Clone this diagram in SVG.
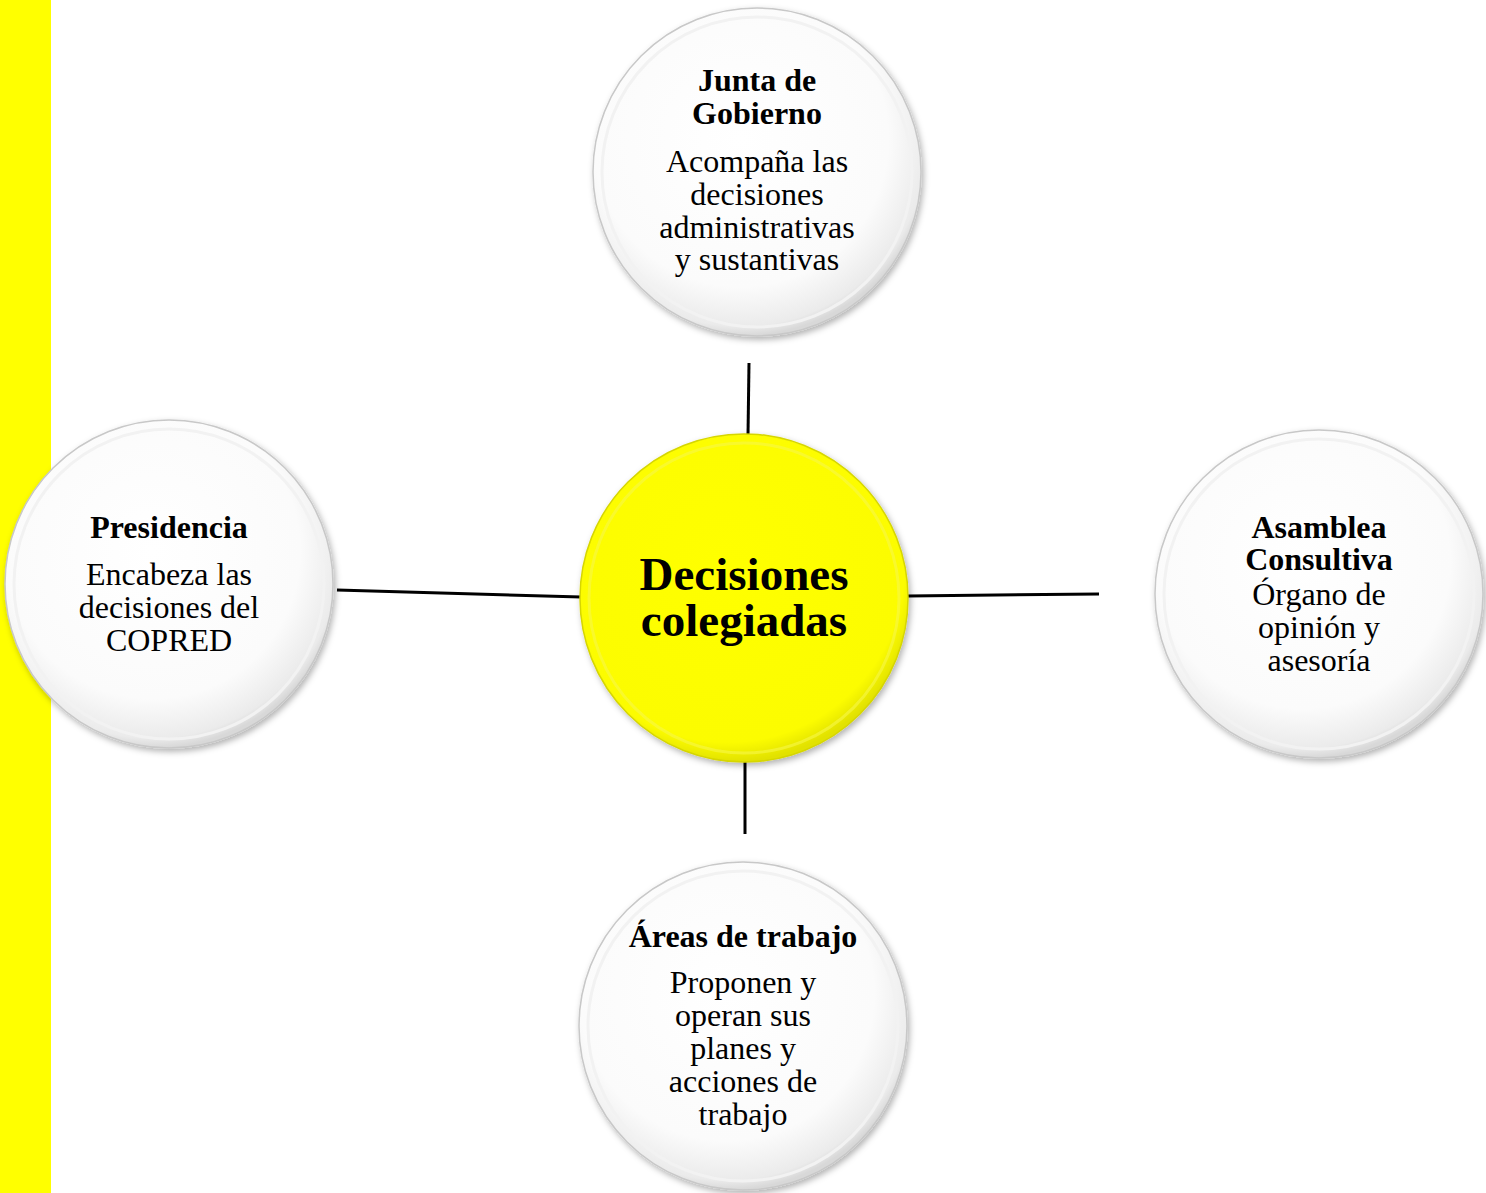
<svg xmlns="http://www.w3.org/2000/svg" width="1486" height="1193" viewBox="0 0 1486 1193">
<defs>
<radialGradient id="gw" cx="0.45" cy="0.4" r="0.6">
<stop offset="0" stop-color="#ffffff"/>
<stop offset="0.75" stop-color="#fbfbfb"/>
<stop offset="0.95" stop-color="#ebebeb"/>
<stop offset="1" stop-color="#d8d8d8"/>
</radialGradient>
<radialGradient id="gy" cx="0.45" cy="0.4" r="0.6">
<stop offset="0" stop-color="#ffff00"/>
<stop offset="0.9" stop-color="#fcfc00"/>
<stop offset="1" stop-color="#e2e200"/>
</radialGradient>
<filter id="sh" x="-20%" y="-20%" width="140%" height="140%">
<feDropShadow dx="2" dy="3" stdDeviation="3" flood-color="#000" flood-opacity="0.3"/>
</filter>
</defs>
<style>
.cw{fill:url(#gw);stroke:#c8c8c8;stroke-width:1.5;filter:url(#sh)}
.cy{fill:url(#gy);stroke:#d6d600;stroke-width:1.5;filter:url(#sh)}
.rw{fill:none;stroke:#f2f2f2;stroke-width:3}
.ry{fill:none;stroke:#f6f64a;stroke-width:3;opacity:0.6}
.t{font-family:"Liberation Serif","Times New Roman",serif;font-size:32px;font-weight:bold;fill:#000;text-anchor:middle}
.b{font-family:"Liberation Serif","Times New Roman",serif;font-size:32px;fill:#000;text-anchor:middle}
.c{font-family:"Liberation Serif","Times New Roman",serif;font-size:47px;font-weight:bold;fill:#000;text-anchor:middle}
.ln{stroke:#000;stroke-width:3;fill:none}
</style>
<rect x="0" y="0" width="51" height="1193" fill="#ffff00"/>
<g id="connectors">
<line class="ln" x1="749" y1="363" x2="748" y2="435"/>
<line class="ln" x1="337" y1="590" x2="581" y2="597"/>
<line class="ln" x1="908" y1="596" x2="1099" y2="594"/>
<line class="ln" x1="745" y1="762" x2="745" y2="834"/>
</g>
<g id="junta">
<circle class="cw" cx="757" cy="172" r="164"/>
<circle class="rw" cx="757" cy="172" r="155"/>
<text class="t" x="757" y="91">Junta de</text>
<text class="t" x="757" y="124">Gobierno</text>
<text class="b" x="757" y="172">Acompaña las</text>
<text class="b" x="757" y="205">decisiones</text>
<text class="b" x="757" y="238">administrativas</text>
<text class="b" x="757" y="270">y sustantivas</text>
</g>
<g id="presidencia">
<circle class="cw" cx="169" cy="584" r="164"/>
<circle class="rw" cx="169" cy="584" r="155"/>
<text class="t" x="169" y="538">Presidencia</text>
<text class="b" x="169" y="585">Encabeza las</text>
<text class="b" x="169" y="618">decisiones del</text>
<text class="b" x="169" y="651">COPRED</text>
</g>
<g id="asamblea">
<circle class="cw" cx="1319" cy="594" r="164"/>
<circle class="rw" cx="1319" cy="594" r="155"/>
<text class="t" x="1319" y="538">Asamblea</text>
<text class="t" x="1319" y="570">Consultiva</text>
<text class="b" x="1319" y="605">Órgano de</text>
<text class="b" x="1319" y="638">opinión y</text>
<text class="b" x="1319" y="671">asesoría</text>
</g>
<g id="areas">
<circle class="cw" cx="743" cy="1026" r="164"/>
<circle class="rw" cx="743" cy="1026" r="155"/>
<text class="t" x="743" y="947">Áreas de trabajo</text>
<text class="b" x="743" y="993">Proponen y</text>
<text class="b" x="743" y="1026">operan sus</text>
<text class="b" x="743" y="1059">planes y</text>
<text class="b" x="743" y="1092">acciones de</text>
<text class="b" x="743" y="1125">trabajo</text>
</g>
<g id="centro">
<circle class="cy" cx="744" cy="598" r="164"/>
<circle class="ry" cx="744" cy="598" r="155"/>
<text class="c" x="744" y="590">Decisiones</text>
<text class="c" x="744" y="636">colegiadas</text>
</g>
</svg>
